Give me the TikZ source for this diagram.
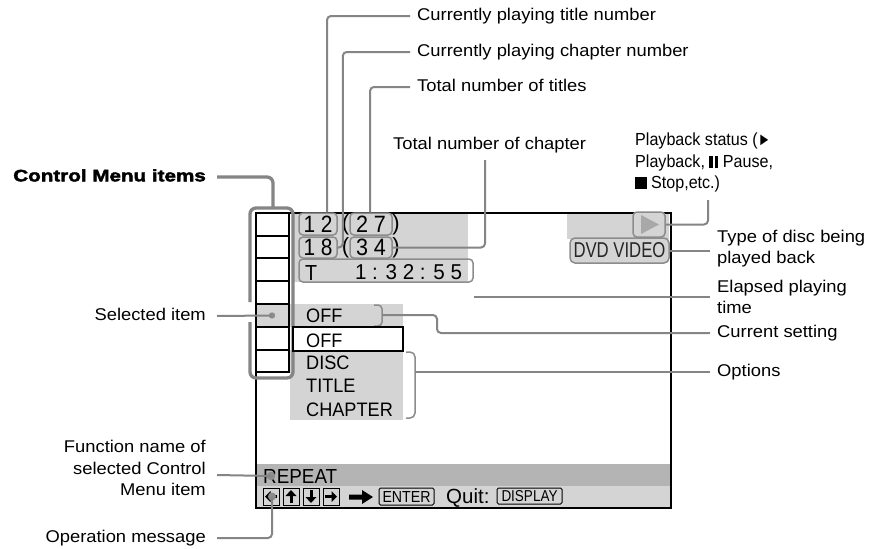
\documentclass[tikz,border=0pt]{standalone}
\usepackage{fontspec}
\usepackage{graphicx}
\setmainfont{Liberation Sans}
\newfontfamily\lab[FakeStretch=1.08]{Liberation Sans}
\newfontfamily\statf[FakeStretch=0.92]{Liberation Sans}
\newfontfamily\heavy[FakeStretch=1.25,BoldFeatures={FakeBold=2.5}]{Liberation Sans}
\newfontfamily\menuf[FakeStretch=0.93]{Liberation Sans}
\definecolor{conng}{HTML}{858585}
\definecolor{boxg}{HTML}{8C8C8C}
\definecolor{lgrey}{HTML}{D4D4D4}
\definecolor{mgrey}{HTML}{B4B4B4}
\definecolor{trig}{HTML}{A8A8A8}
\begin{document}
\begin{tikzpicture}[x=1pt,y=-1pt,
  lbl/.style={inner sep=0pt, font=\lab\fontsize{17}{20}\selectfont, text height=9pt, text depth=0pt},
  stat/.style={inner sep=0pt, anchor=west, font=\statf\fontsize{17.5}{20}\selectfont, text height=9pt, text depth=0pt},
  conn/.style={draw=conng, line width=2pt, rounded corners=4pt},
  cmconn/.style={draw=conng, line width=3.3pt, rounded corners=6pt},
  nbox/.style={draw=boxg, line width=1.5pt, rounded corners=4pt, inner sep=0pt},
  mtxt/.style={inner sep=0pt, anchor=west, font=\menuf\fontsize{19.5}{22}\selectfont, text height=14pt, text depth=0pt},
  keybox/.style={draw, line width=1pt, inner sep=0pt, minimum width=16pt, minimum height=17pt},
  gdot/.style={fill=boxg},
  paren/.style={inner sep=0pt, anchor=base, font=\fontsize{22}{24}\selectfont},
  smallbox/.style={draw, line width=1pt, rounded corners=1.5pt, inner sep=0pt, minimum height=17pt}
]
\fill[white] (0,0) rectangle (876,549);
\useasboundingbox (0,0) rectangle (876,549);

% ---- screen fills
\fill[lgrey] (293,213) rectangle (468,282);
\fill[lgrey] (567,213) rectangle (669,239);
\fill[lgrey] (290,304) rectangle (403,327);
\fill[lgrey] (290,350) rectangle (403,420);
\fill[lgrey] (256,304) rectangle (289,327);
\fill[mgrey] (256,464) rectangle (671,486);
\fill[lgrey] (256,486) rectangle (671,508);

% ---- screen outline
\node[draw, line width=1.5pt, inner sep=0pt, minimum width=415pt, minimum height=295pt] (screen) at (463.5,360.5) {};

% ---- menu column
\node[draw, line width=1.2pt, inner sep=0pt, minimum width=33pt, minimum height=159pt] (menu) at (272.5,292.5) {};
\foreach \yy in {236,258,281,304,327,350} \draw[line width=1.2pt] (256,\yy) -- (289,\yy);
\draw[cmconn] (250,302) -- (250,208) -- (293,208) -- (293,378) -- (250,378) -- (250,322);
\coordinate (menutop) at (273,208);

% ---- number boxes
\node[nbox, minimum width=38pt, minimum height=22pt] (b12) at (318,224) {\resizebox{29pt}{16.5pt}{1 2}};
\node[nbox, minimum width=42pt, minimum height=22pt] (b27) at (371,224) {\resizebox{30pt}{16.5pt}{2 7}};
\node[nbox, minimum width=38pt, minimum height=21pt] (b18) at (318,247.5) {\resizebox{29pt}{16.5pt}{1 8}};
\node[nbox, minimum width=42pt, minimum height=21pt] (b34) at (371,247.5) {\resizebox{30pt}{16.5pt}{3 4}};
\node[nbox, minimum width=174pt, minimum height=23pt] (bT) at (386,270.5) {};
\node[inner sep=0pt] (tT) at (311,272.5) {\resizebox{12pt}{15pt}{T}};
\node[inner sep=0pt] (ttime) at (408.5,272.5) {\resizebox{107pt}{15pt}{1 : 3 2 : 5 5}};
\node[paren] (p1l) at (345.5,230.7) {(};
\node[paren] (p1r) at (396,230.7) {)};
\node[paren] (p2l) at (345.5,253) {(};
\node[paren] (p2r) at (396,253) {)};

% ---- play status box and disc type
\node[nbox, fill=lgrey, minimum width=32pt, minimum height=25pt] (pbox) at (649,224.5) {};
\fill[trig] (641,215) -- (641,234) -- (659,224.5) -- cycle;
\node[nbox, fill=lgrey, rounded corners=5pt, minimum width=99pt, minimum height=25pt, text=black!85] (dvd) at (619.5,250.5) {\resizebox{92pt}{15pt}{DVD VIDEO}};

% ---- settings
\draw[draw=boxg, line width=1.5pt, rounded corners=4pt] (374,305) -- (382,305) -- (382,326) -- (374,326);
\coordinate (offbr) at (382,315);
\node[draw, line width=1.2pt, fill=white, inner sep=0pt, minimum width=110pt, minimum height=24pt] (offbox) at (348,339) {};
\draw[draw=boxg, line width=1.5pt, rounded corners=5pt] (406,352) -- (415,352) -- (415,418) -- (406,418);
\coordinate (optbr) at (415,372);
\node[mtxt] (m1) at (306,315) {OFF};
\node[mtxt] (m2) at (306,340) {OFF};
\node[mtxt] (m3) at (306,362) {DISC};
\node[mtxt] (m4) at (306,385) {TITLE};
\node[mtxt] (m5) at (306,409) {CHAPTER};

% ---- bottom bars
\node[inner sep=0pt, anchor=west] (rep) at (263,476) {\resizebox{74pt}{14pt}{REPEAT}};
\node[keybox] (k1) at (271,496.5) {};
\node[keybox] (k2) at (291,496.5) {};
\node[keybox] (k3) at (311,496.5) {};
\node[keybox] (k4) at (331,496.5) {};
\fill (265,496.5) -- (270.5,491) -- (270.5,502) -- cycle;
\fill (270.5,495) rectangle (277,498);
\fill (291,490) -- (285.5,496) -- (296.5,496) -- cycle;
\fill (289.5,496) rectangle (292.5,503);
\fill (311,503) -- (305.5,497) -- (316.5,497) -- cycle;
\fill (309.5,490) rectangle (312.5,497);
\fill (337,496.5) -- (331.5,491) -- (331.5,502) -- cycle;
\fill (325,495) rectangle (331.5,498);
\fill (349,494.5) -- (362,494.5) -- (362,490) -- (373,497) -- (362,504) -- (362,499.5) -- (349,499.5) -- cycle;
\node[smallbox, minimum width=55pt] (enter) at (406.5,496.5) {\resizebox{48pt}{11pt}{ENTER}};
\node[inner sep=0pt, anchor=base west, font=\fontsize{20.5}{24}\selectfont] (quit) at (446,503.5) {Quit:};
\node[smallbox, minimum width=65pt, minimum height=16pt] (disp) at (529.5,496) {\resizebox{56pt}{11pt}{DISPLAY}};

% ---- dots
\coordinate (seldot) at (272,315.5);
\coordinate (repdot) at (271,476);
\coordinate (keydot) at (272,496.5);
\fill[gdot] (seldot) circle (3.2pt);
\fill[gdot] (repdot) circle (4.3pt);
\fill[gdot] (keydot) circle (4pt);

% ---- labels top
\node[lbl, anchor=west] (ttitle) at (417,16) {Currently playing title number};
\node[lbl, anchor=west] (tchap) at (417,52) {Currently playing chapter number};
\node[lbl, anchor=west] (ttitles) at (417,87) {Total number of titles};
\node[lbl, anchor=west] (tchtot) at (393,145) {Total number of chapter};
\coordinate (tchbot) at (485,160);

% ---- labels left
\node[inner sep=0pt, anchor=east, font=\heavy\bfseries\fontsize{16.5}{20}\selectfont, text height=8.6pt, text depth=0pt] (cmi) at (206,177) {Control Menu items};
\node[lbl, anchor=east] (sel) at (206,316) {Selected item};
\node[lbl, anchor=east] (fn1) at (206,448) {Function name of};
\node[lbl, anchor=east] (fn2) at (206,470) {selected Control};
\node[lbl, anchor=east] (fn3) at (206,491) {Menu item};
\node[lbl, anchor=east] (opm) at (206,538) {Operation message};

% ---- labels right
\node[stat] (st1) at (635,141) {Playback status (\resizebox{13pt}{10.5pt}{►}};
\node[stat] (st2) at (635,163) {Playback, \rule{3.6pt}{11.5pt}\hspace{1.8pt}\rule{3.6pt}{11.5pt} Pause,};
\node[stat] (st3) at (635,184) {\rule{11.5pt}{11.5pt} Stop,etc.)};
\coordinate (stbot) at (708,200);
\node[lbl, anchor=west] (td1) at (717,238) {Type of disc being};
\node[lbl, anchor=west] (td2) at (717,259) {played back};
\node[lbl, anchor=west] (te1) at (717,288) {Elapsed playing};
\node[lbl, anchor=west] (te2) at (717,309) {time};
\node[lbl, anchor=west] (tcur) at (717,333) {Current setting};
\node[lbl, anchor=west] (topt) at (717,372) {Options};

% ---- connectors
\draw[conn] ([xshift=-7pt]ttitle.west) -| ([xshift=9pt]b12.north);
\draw[conn] ([xshift=-7pt]tchap.west) -| ([xshift=5pt]b18.east) -- (b18.east);
\draw[conn] ([xshift=-7pt]ttitles.west) -| ([xshift=-1pt]b27.north);
\draw[conn] (tchbot) |- (b34.east);
\draw[cmconn] ([xshift=11pt]cmi.east) -| (menutop);
\draw[conn] ([xshift=11pt]sel.east) -- (seldot);
\draw[conn] ([xshift=11pt,yshift=-5pt]fn2.east) -- (repdot);
\draw[conn] ([xshift=11pt]opm.east) -| (keydot);
\draw[conn] (stbot) |- (pbox.east);
\draw[conn] (dvd.east) -- ([xshift=-7pt]td1.west |- dvd.east);
\draw[conn] (bT.east |- 0,297) -- ([xshift=-7pt]te1.west |- 0,297);
\draw[conn] (offbr) -- (437,315) -- (437,333) -- ([xshift=-7pt]tcur.west);
\draw[conn] (optbr) -- ([xshift=-7pt]topt.west);
\end{tikzpicture}
\end{document}
